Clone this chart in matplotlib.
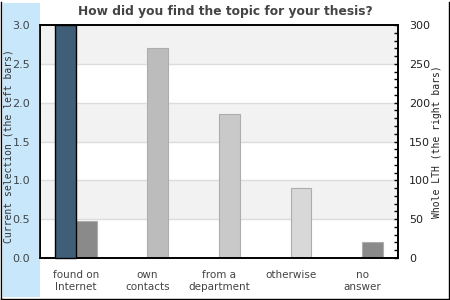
import matplotlib
matplotlib.use("Agg")
import matplotlib.pyplot as plt
from matplotlib.patches import Rectangle
from matplotlib.lines import Line2D
import numpy as np

categories = ["found on\nInternet", "own\ncontacts", "from a\ndepartment", "otherwise", "no\nanswer"]
current_selection = [3.0, 0, 0, 0, 0]
whole_lth = [47, 270, 186, 90, 20]
whole_colors = ["#8a8a8a", "#bcbcbc", "#c9c9c9", "#d8d8d8", "#8a8a8a"]
left_ticks = [0.0, 0.5, 1.0, 1.5, 2.0, 2.5, 3.0]
right_ticks = [0, 50, 100, 150, 200, 250, 300]

W, H = 450, 300
fig = plt.figure(figsize=(W / 100, H / 100), dpi=100)
fig.patch.set_facecolor("white")

# light blue strip behind the left axis
fig.patches.append(Rectangle((3 / W, 3 / H), 37 / W, 294 / H, transform=fig.transFigure,
                             facecolor="#c8e7fb", edgecolor="none", zorder=0))
# outer frame
for xs, ys in [([0.5, 0.5], [0, 298.5]), ([448.5, 448.5], [0, 298.5]), ([0.5, 448.5], [1.5, 1.5])]:
    fig.add_artist(Line2D([x / W for x in xs], [y / H for y in ys], color="black", lw=1.0,
                          transform=fig.transFigure))

ax = fig.add_axes([40 / W, 42 / H, 358 / W, 233 / H])
ax2 = ax.twinx()
ax.set_zorder(ax2.get_zorder() + 1)
ax.patch.set_visible(False)

x = np.arange(len(categories))
bw = 0.29

ax.set_ylim(0, 3.0)
ax.set_xlim(-0.5, len(categories) - 0.5)
ax2.set_ylim(0, 300)

# alternating horizontal bands and grid lines
for i in range(len(left_ticks) - 1):
    lo, hi = left_ticks[i], left_ticks[i + 1]
    if i % 2 == 1:
        ax2.axhspan(lo * 100, hi * 100, facecolor="#f2f2f2", edgecolor="none", zorder=0)
for t in left_ticks[1:-1]:
    ax2.axhline(t * 100, color="#dcdcdc", lw=1.0, zorder=0.5)

ax2.bar(x, whole_lth, width=bw, align="edge", color=whole_colors, edgecolor="#adadad",
        linewidth=0.8, zorder=2)
sel = np.array(current_selection)
nz = sel > 0
ax.bar(x[nz] - bw, sel[nz], width=bw, align="edge", color="#3f5f79", edgecolor="black",
       linewidth=1.0, zorder=3, clip_on=False)

for a in (ax, ax2):
    for s in a.spines.values():
        s.set_color("black")
        s.set_linewidth(1.2)

ax.set_xticks(x)
ax.set_xticklabels(categories, fontsize=7.5, color="#444444", family="DejaVu Sans")
ax.tick_params(axis="x", length=0, pad=9)
ax.set_yticks(left_ticks)
ax.set_yticklabels([f"{t:.1f}" for t in left_ticks], fontsize=8, color="#444444")
ax.tick_params(axis="y", length=0, pad=7)

ax2.set_yticks(right_ticks)
ax2.set_yticklabels([str(t) for t in right_ticks], fontsize=8, color="#222222")
ax2.set_yticks(np.arange(0, 301, 10), minor=True)
ax2.tick_params(axis="y", which="both", direction="in", length=3, width=1, pad=8, color="black")

ax.set_ylabel("Current selection (the left bars)", family="DejaVu Sans Mono", fontsize=7,
              color="#333333")
ax.yaxis.set_label_coords((13.5 - 40) / 358, 0.48)
ax2.set_ylabel("Whole LTH (the right bars)", family="DejaVu Sans Mono", fontsize=7,
               color="#222222", rotation=90)
ax2.yaxis.set_label_coords((431.5 - 40) / 358, 0.5)

fig.text(225 / W, 1 - 12 / H, "How did you find the topic for your thesis?", ha="center",
         va="center", fontsize=8.8, fontweight="bold", color="#444444", family="DejaVu Sans")

fig.savefig("out.png", dpi=100)
